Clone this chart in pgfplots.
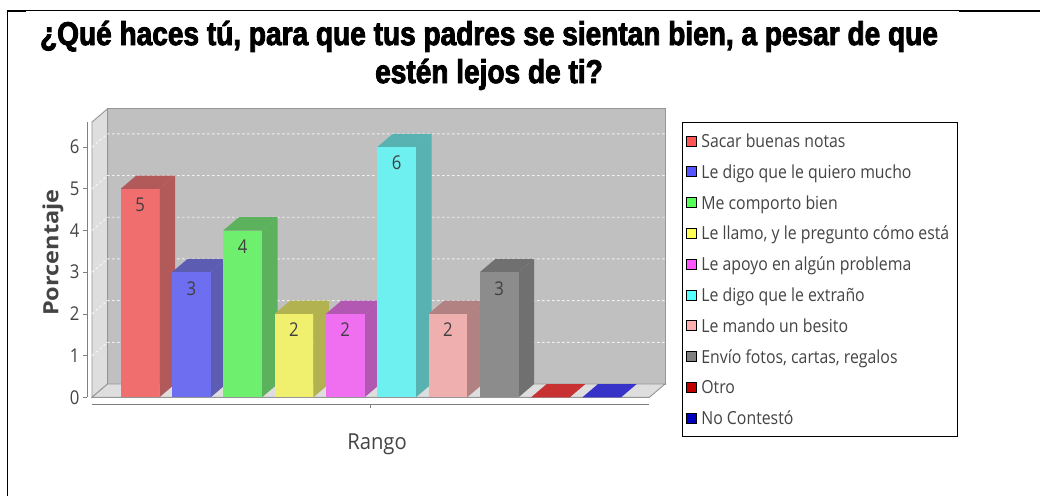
\documentclass[border=0pt]{standalone}
\usepackage{fontspec}
\usepackage{pgfplots}
\pgfplotsset{compat=1.18}
\setmainfont{Liberation Sans}
\newfontfamily\titlefont[FakeStretch=0.85,FakeBold=2.6]{Liberation Sans Bold}
\newfontfamily\labfont[FakeStretch=0.88]{Open Sans}
\newfontfamily\ylabfont[FakeStretch=1.12]{Open Sans}
\newfontfamily\xlabfont[FakeStretch=0.92]{Open Sans}
\definecolor{wallback}{RGB}{192,192,192}
\definecolor{wallside}{RGB}{222,222,222}
\definecolor{edgegray}{RGB}{150,150,150}
\definecolor{inkgray}{RGB}{68,68,68}
\definecolor{fA}{RGB}{240,110,110}\definecolor{sA}{RGB}{178,90,90}
\definecolor{fB}{RGB}{110,110,240}\definecolor{sB}{RGB}{92,92,178}
\definecolor{fC}{RGB}{110,240,110}\definecolor{sC}{RGB}{92,178,92}
\definecolor{fD}{RGB}{240,240,110}\definecolor{sD}{RGB}{178,178,80}
\definecolor{fE}{RGB}{240,110,240}\definecolor{sE}{RGB}{178,88,178}
\definecolor{fF}{RGB}{110,240,240}\definecolor{sF}{RGB}{88,178,178}
\definecolor{fG}{RGB}{240,175,175}\definecolor{sG}{RGB}{178,130,130}
\definecolor{fH}{RGB}{140,140,140}\definecolor{sH}{RGB}{112,112,112}
\definecolor{fI}{RGB}{200,50,50}
\definecolor{fJ}{RGB}{55,50,200}
\definecolor{lA}{RGB}{255,85,85}\definecolor{lB}{RGB}{85,85,255}
\definecolor{lC}{RGB}{85,255,85}\definecolor{lD}{RGB}{255,255,85}
\definecolor{lE}{RGB}{255,85,255}\definecolor{lF}{RGB}{85,255,255}
\definecolor{lG}{RGB}{255,175,175}\definecolor{lH}{RGB}{128,128,128}
\definecolor{lI}{RGB}{192,0,0}\definecolor{lJ}{RGB}{0,0,192}
% L, R, L+depth, R+depth, centre, value, value+depth, front colour, dark colour
\newcommand\threedbar[9]{%
  \addplot[forget plot,fill=#9,draw=none] coordinates {(#2,0) (#4,0.319) (#4,#7) (#2,#6)} -- cycle;
  \addplot[forget plot,fill=#9,draw=none] coordinates {(#1,#6) (#3,#7) (#4,#7) (#2,#6)} -- cycle;
  \addplot[forget plot,ybar,bar width=38.7,bar shift=0,fill=#8,draw=none,point meta=y,
    nodes near coords,
    nodes near coords style={anchor=center,yshift=-16pt,font=\labfont\fontsize{19}{20}\selectfont,text=black!75}]
    coordinates {(#5,#6)};
}
\newcommand\gridl[2]{\addplot[forget plot,white,opacity=0.8,line width=0.9pt,dash pattern=on 2.5pt off 2.5pt] coordinates {(92,#1) (107.6,#2) (665,#2)};}
\begin{document}
\begin{tikzpicture}[x=1pt,y=1pt]
\useasboundingbox (0,0) rectangle (1040,496);
\fill[white] (0,0) rectangle (1040,496);
\draw[black,line width=1.2pt] (7.5,0) -- (7.5,485.6) -- (959,485.6);
\draw[black,line width=2pt] (7,485.3) -- (26,485.3);
\draw[black,line width=2pt] (959,485) -- (1040,485);
\begin{axis}[
  at={(92pt,98.7pt)},anchor=south west,
  scale only axis,width=557pt,height=275.2pt,
  xmin=92,xmax=649,ymin=0,ymax=6.6,clip=false,
  /pgf/number format/assume math mode=true,
  axis x line=bottom,axis y line=left,
  axis y line shift=5pt,
  axis x line shift=7pt,
  axis line style={-,draw=edgegray!85!black,line width=0.9pt},
  tick style={draw=edgegray!85!black,line width=0.7pt},
  tick align=outside,major tick length=4pt,
  ytick={0,1,2,3,4,5,6},
  xtick={370},xticklabels={},
  y tick label style={font=\labfont\fontsize{19}{20}\selectfont,text=inkgray},
  ylabel={Porcentaje},xlabel={Rango},
  every axis y label/.style={at={(axis cs:53,3.47)},rotate=90,anchor=center,font=\ylabfont\fontsize{21}{22}\selectfont\bfseries,text=inkgray},
  every axis x label/.style={at={(axis cs:377,-1.12)},anchor=center,font=\xlabfont\fontsize{22}{24}\selectfont,text=inkgray},
  title={¿Qué haces tú, para que tus padres se sientan bien, a pesar de que\\estén lejos de ti?},
  every axis title/.style={at={(axis cs:489,8.2)},anchor=center,align=center,font=\titlefont\fontsize{33}{38}\selectfont,text=black},
  legend cell align=left,
  legend image code/.code={\fill[#1] (0pt,-5pt) rectangle (10pt,5pt);},
  legend style={at={(axis cs:682,6.602)},anchor=north west,draw=black,line width=0.9pt,
    font=\labfont\fontsize{18}{20}\selectfont,text=inkgray,fill=white,
    row sep=9.8pt,inner xsep=4pt,inner ysep=8pt,
    nodes={text height=17pt,text depth=4pt,inner ysep=0pt,inner xsep=4pt}},
]
% walls and floor
\addplot[forget plot,fill=wallback,draw=edgegray,line width=0.9pt] coordinates {(107.6,0.319) (107.6,6.921) (665,6.921) (665,0.319)} -- cycle;
\addplot[forget plot,fill=wallside,draw=edgegray,line width=0.9pt] coordinates {(92,0) (92,6.602) (107.6,6.921) (107.6,0.319)} -- cycle;
\addplot[forget plot,fill=wallside,draw=edgegray,line width=0.9pt] coordinates {(92,0) (107.6,0.319) (665,0.319) (649.4,0)} -- cycle;
\gridl{1}{1.319}\gridl{2}{2.319}\gridl{3}{3.319}\gridl{4}{4.319}\gridl{5}{5.319}\gridl{6}{6.319}
\threedbar{120.7}{159.4}{136.3}{175.0}{140.05}{5}{5.319}{fA}{sA}
\threedbar{172.0}{210.7}{187.6}{226.3}{191.35}{3}{3.319}{fB}{sB}
\threedbar{223.3}{262.0}{238.9}{277.6}{242.65}{4}{4.319}{fC}{sC}
\threedbar{274.6}{313.3}{290.2}{328.9}{293.95}{2}{2.319}{fD}{sD}
\threedbar{325.9}{364.6}{341.5}{380.2}{345.25}{2}{2.319}{fE}{sE}
\threedbar{377.2}{415.9}{392.8}{431.5}{396.55}{6}{6.319}{fF}{sF}
\threedbar{428.5}{467.2}{444.1}{482.8}{447.85}{2}{2.319}{fG}{sG}
\threedbar{479.8}{518.5}{495.4}{534.1}{499.15}{3}{3.319}{fH}{sH}
\addplot[forget plot,fill=fI,draw=none] coordinates {(531.1,0) (546.7,0.319) (585.4,0.319) (569.8,0)} -- cycle;
\addplot[forget plot,fill=fJ,draw=none] coordinates {(582.4,0) (598,0.319) (636.7,0.319) (621.1,0)} -- cycle;
\addlegendimage{fill=lA}\addlegendentry{Sacar buenas notas}
\addlegendimage{fill=lB}\addlegendentry{Le digo que le quiero mucho}
\addlegendimage{fill=lC}\addlegendentry{Me comporto bien}
\addlegendimage{fill=lD}\addlegendentry{Le llamo, y le pregunto cómo está}
\addlegendimage{fill=lE}\addlegendentry{Le apoyo en algún problema}
\addlegendimage{fill=lF}\addlegendentry{Le digo que le extraño}
\addlegendimage{fill=lG}\addlegendentry{Le mando un besito}
\addlegendimage{fill=lH}\addlegendentry{Envío fotos, cartas, regalos}
\addlegendimage{fill=lI}\addlegendentry{Otro}
\addlegendimage{fill=lJ}\addlegendentry{No Contestó}
\end{axis}
\end{tikzpicture}
\end{document}
